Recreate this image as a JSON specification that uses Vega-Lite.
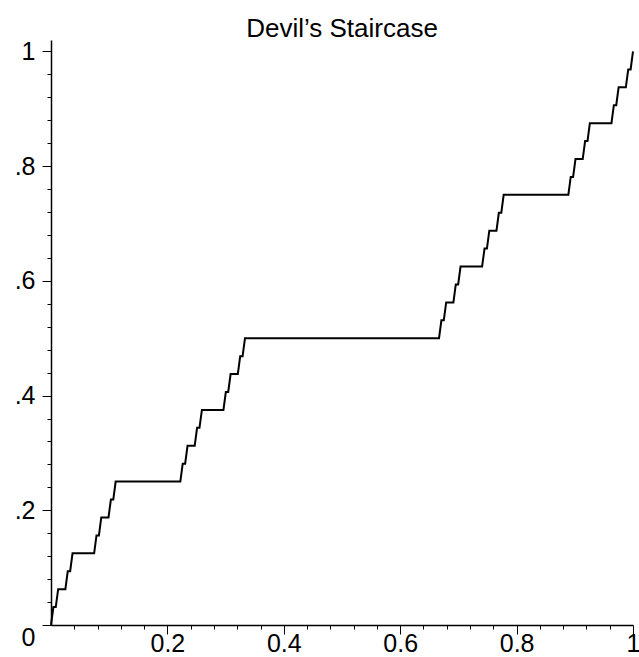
{
  "$schema": "https://vega.github.io/schema/vega-lite/v6.json",
  "width": 582,
  "height": 585,
  "autosize": {"type": "none"},
  "padding": {"left": 51, "top": 40, "right": 6, "bottom": 32},
  "background": "white",
  "title": {
    "text": "Devil’s Staircase",
    "font": "Liberation Sans",
    "fontSize": 26,
    "fontWeight": "normal",
    "color": "black",
    "anchor": "middle",
    "frame": "group",
    "baseline": "alphabetic",
    "offset": -24
  },
  "config": {
    "view": {"stroke": null},
    "axis": {
      "grid": false,
      "domainColor": "black",
      "domainWidth": 1.5,
      "tickColor": "black",
      "tickWidth": 1,
      "labelColor": "black",
      "labelFont": "Liberation Sans",
      "labelOverlap": false,
      "labelFlush": false,
      "labelBound": false,
      "title": null
    }
  },
  "data": {
    "values": [
      {"x": 0, "y": 0},
      {"x": 0.0041, "y": 0.03125},
      {"x": 0.0082, "y": 0.03125},
      {"x": 0.0123, "y": 0.0625},
      {"x": 0.0247, "y": 0.0625},
      {"x": 0.0288, "y": 0.09375},
      {"x": 0.0329, "y": 0.09375},
      {"x": 0.0370, "y": 0.125},
      {"x": 0.0741, "y": 0.125},
      {"x": 0.0782, "y": 0.15625},
      {"x": 0.0823, "y": 0.15625},
      {"x": 0.0864, "y": 0.1875},
      {"x": 0.0988, "y": 0.1875},
      {"x": 0.1029, "y": 0.21875},
      {"x": 0.1070, "y": 0.21875},
      {"x": 0.1111, "y": 0.25},
      {"x": 0.2222, "y": 0.25},
      {"x": 0.2263, "y": 0.28125},
      {"x": 0.2305, "y": 0.28125},
      {"x": 0.2346, "y": 0.3125},
      {"x": 0.2469, "y": 0.3125},
      {"x": 0.2510, "y": 0.34375},
      {"x": 0.2551, "y": 0.34375},
      {"x": 0.2593, "y": 0.375},
      {"x": 0.2963, "y": 0.375},
      {"x": 0.3004, "y": 0.40625},
      {"x": 0.3045, "y": 0.40625},
      {"x": 0.3086, "y": 0.4375},
      {"x": 0.3210, "y": 0.4375},
      {"x": 0.3251, "y": 0.46875},
      {"x": 0.3292, "y": 0.46875},
      {"x": 0.3333, "y": 0.5},
      {"x": 0.6667, "y": 0.5},
      {"x": 0.6708, "y": 0.53125},
      {"x": 0.6749, "y": 0.53125},
      {"x": 0.6790, "y": 0.5625},
      {"x": 0.6914, "y": 0.5625},
      {"x": 0.6955, "y": 0.59375},
      {"x": 0.6996, "y": 0.59375},
      {"x": 0.7037, "y": 0.625},
      {"x": 0.7407, "y": 0.625},
      {"x": 0.7449, "y": 0.65625},
      {"x": 0.7490, "y": 0.65625},
      {"x": 0.7531, "y": 0.6875},
      {"x": 0.7654, "y": 0.6875},
      {"x": 0.7695, "y": 0.71875},
      {"x": 0.7737, "y": 0.71875},
      {"x": 0.7778, "y": 0.75},
      {"x": 0.8889, "y": 0.75},
      {"x": 0.8930, "y": 0.78125},
      {"x": 0.8971, "y": 0.78125},
      {"x": 0.9012, "y": 0.8125},
      {"x": 0.9136, "y": 0.8125},
      {"x": 0.9177, "y": 0.84375},
      {"x": 0.9218, "y": 0.84375},
      {"x": 0.9259, "y": 0.875},
      {"x": 0.9630, "y": 0.875},
      {"x": 0.9671, "y": 0.90625},
      {"x": 0.9712, "y": 0.90625},
      {"x": 0.9753, "y": 0.9375},
      {"x": 0.9877, "y": 0.9375},
      {"x": 0.9918, "y": 0.96875},
      {"x": 0.9959, "y": 0.96875},
      {"x": 1, "y": 1}
    ]
  },
  "mark": {"type": "line", "color": "black", "strokeWidth": 2, "interpolate": "linear"},
  "encoding": {
    "x": {
      "field": "x",
      "type": "quantitative",
      "scale": {"domain": [0, 1], "nice": false, "zero": false},
      "axis": {
        "values": [0.04, 0.08, 0.12, 0.16, 0.2, 0.24, 0.28, 0.32, 0.36, 0.4, 0.44, 0.48, 0.52, 0.56, 0.6, 0.64, 0.68, 0.72, 0.76, 0.8, 0.84, 0.88, 0.92, 0.96, 1],
        "labelExpr": "abs(datum.value*5 - round(datum.value*5)) < 0.000001 ? format(datum.value, '~g') : ''",
        "labelFontSize": 25,
        "labelPadding": -3,
        "tickSize": {"condition": {"test": "abs(datum.value*5 - round(datum.value*5)) < 0.000001", "value": 9}, "value": 4}
      }
    },
    "y": {
      "field": "y",
      "type": "quantitative",
      "scale": {"domain": [0, 1.02], "nice": false, "zero": false},
      "axis": {
        "values": [0, 0.04, 0.08, 0.12, 0.16, 0.2, 0.24, 0.28, 0.32, 0.36, 0.4, 0.44, 0.48, 0.52, 0.56, 0.6, 0.64, 0.68, 0.72, 0.76, 0.8, 0.84, 0.88, 0.92, 0.96, 1],
        "labelExpr": "datum.value == 0 ? '0' : datum.value == 1 ? '1' : (abs(datum.value*5 - round(datum.value*5)) < 0.000001 ? replace(format(datum.value, '.1f'), '0.', '.') : '')",
        "labelFontSize": 25,
        "labelPadding": 7,
        "labelBaseline": {"condition": {"test": "datum.value == 0", "value": "top"}, "value": "middle"},
        "tickSize": {"condition": {"test": "abs(datum.value*5 - round(datum.value*5)) < 0.000001", "value": 9}, "value": 4}
      }
    }
  }
}
